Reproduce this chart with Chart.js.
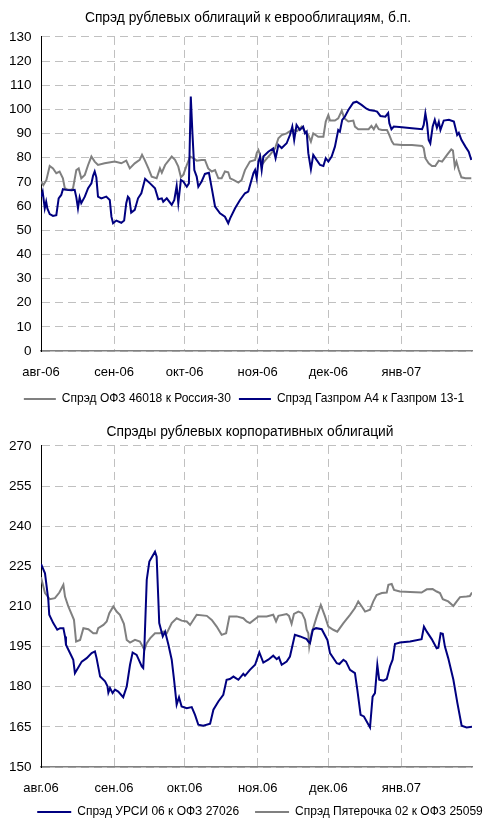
<!DOCTYPE html>
<html><head><meta charset="utf-8">
<script src="https://cdn.jsdelivr.net/npm/chart.js@4/dist/chart.umd.min.js"></script>
<style>
html,body{margin:0;padding:0;background:#fff;overflow:hidden;width:490px;height:818px}
.box{position:absolute;left:0;width:490px}
</style></head>
<body>
<div class="box" style="top:0"><canvas id="c1" width="490" height="415"></canvas></div>
<div class="box" style="top:410px"><canvas id="c2" width="490" height="423"></canvas></div>
<script>
// x values: trading day offset in days from 1 Aug 2006
const monthTicks = [0, 31, 61, 92, 122, 153];
const monthLabels1 = ['авг-06','сен-06','окт-06','ноя-06','дек-06','янв-07'];
const monthLabels2 = ['авг.06','сен.06','окт.06','ноя.06','дек.06','янв.07'];
const yTicks1 = {min:0, max:130, step:10};
const yTicks2 = {min:150, max:270, step:15};

// Спрэд ОФЗ 46018 к Россия-30 [day, b.p.]
const ofzRussia = [[0,70.1],[1,68.7],[2.3,70.8],[3.7,76.6],[5.1,75.6],[6.5,73.6],[7.9,74.3],[9.3,71.5],[10.1,67.4],[11.5,66.7],[12.9,66.7],[13.6,67.4],[15,74.9],[16,75.6],[17.1,71.5],[18.6,72.9],[20,77],[21.4,80.5],[22.8,78.4],[24.2,77],[27,77.7],[31.3,78.4],[34.1,77.7],[36.2,78.8],[37.7,75.6],[39.8,77.7],[41.9,79.1],[42.9,81.2],[44,79.1],[45.6,75.6],[47,72.2],[49.1,71.5],[50.5,75.6],[51.3,73.8],[52.7,77],[55.5,80.5],[56.9,79.1],[58.3,76.3],[59.4,71.9],[60.4,72.9],[61.9,77],[63.3,80.5],[64.7,79.8],[66.1,78.8],[68.2,79.1],[69.6,79.1],[71,75.6],[72.5,74.3],[73.9,74.9],[75.3,71.5],[76.7,71.5],[78.1,74.3],[79.5,74],[80.3,71.5],[81.7,70.8],[83.8,69.7],[85.2,70.8],[86.6,74.9],[88.7,78.4],[90.9,79.1],[91.6,81.9],[92.3,83.2],[93,81.2],[93.7,77],[95.1,78.8],[97.2,81.2],[99.4,83.9],[100.8,88.1],[102.2,89.4],[104.3,90.1],[105.7,91],[107.1,91.5],[108.7,91],[110.7,92.9],[112.1,90.8],[113.5,89.4],[114.6,86.7],[115.6,90.1],[117.7,88.7],[119.9,88.7],[120.9,95],[122,97.7],[122.7,95.4],[124.8,95.4],[126.2,96.3],[127.7,99.5],[128.8,96.3],[130.5,95],[132.6,95.4],[133.3,92.9],[134.7,91.8],[136.3,91.8],[139.1,91.8],[140.3,93.2],[141.3,91.8],[142.3,93.6],[143.4,91.8],[144.8,91.5],[146.9,91.5],[147.6,90.1],[149,86.7],[149.8,85.6],[153.3,85.3],[157.5,85.3],[161.8,84.9],[162.5,84],[163.2,79.8],[164.6,77.7],[166,76.6],[167.4,76.6],[168.9,78.8],[170.3,78.4],[172.4,81.2],[174.2,83.5],[174.9,83],[175.7,76.3],[176.4,78.4],[177.4,74.9],[178.5,71.9],[180.2,71.5],[182.7,71.5]];

// Спрэд Газпром А4 к Газпром 13-1 [day, b.p.]
const gazprom = [[0,63.9],[0.7,66],[1.6,59.1],[2.2,61.8],[2.7,59],[3.7,56.7],[5.1,55.9],[6.5,56.2],[7.5,63.2],[8.6,64.6],[9.3,67],[10.7,66.7],[13,66.5],[14.3,66.7],[15,63.6],[15.7,59.1],[16.4,63.6],[17.1,61.2],[18.6,63.9],[20,67.4],[21.4,69.4],[22.1,72.5],[22.8,74.3],[23.5,71.9],[24.2,63.9],[25.6,63.2],[27.7,63.9],[29.2,62.5],[29.9,55.6],[30.6,52.9],[32,54],[34.1,53.1],[35.3,54],[36.2,61.2],[36.9,63.9],[37.5,63.2],[38.3,57.3],[39.8,58.4],[41.2,63.2],[42.6,65.3],[44.2,71.3],[46.3,69.4],[48.4,67.4],[49.8,62.8],[51.3,63.2],[51.9,61.8],[53.4,63.2],[55.5,60.5],[56.6,62.5],[57.6,68.3],[58.3,61.2],[59.4,70.8],[60.4,70.2],[61.9,68],[62.8,69.4],[63.6,105.3],[64.3,90.1],[65.1,74.9],[66.1,72.2],[66.8,68],[68.2,70.2],[69.6,73.3],[71.3,73.8],[72.5,67.4],[73.9,59.8],[76,57],[78.1,55.6],[79.5,52.9],[80.3,54.9],[82.4,59.1],[84.5,62.5],[86.6,65.3],[88,66],[90.2,73.6],[90.9,74.9],[91.6,71.5],[92.3,78.4],[93,80.5],[93.7,74.9],[94.4,80.5],[96.5,82.5],[98.6,83.9],[99.6,79.8],[100.8,85.3],[102.2,84],[104.3,86],[105.7,89.4],[106.7,92.9],[107.5,87.4],[108.5,93.6],[109.9,91.5],[111.3,92.9],[112.1,90.1],[112.8,90.8],[113.5,81.9],[114.6,75.2],[115.6,81.2],[117,79.1],[118.5,77],[119.9,76.6],[120.9,79.8],[122,78.4],[123.4,80.5],[124.8,84.6],[126.2,91.5],[126.9,90.8],[127.9,95.7],[129,97],[130.5,99.8],[132.6,102.8],[134,103.2],[136.1,101.9],[138.2,100.3],[139.4,99.8],[141.3,99.5],[142.7,99.1],[144.1,97.3],[146.2,97],[147.4,98.5],[147.9,94.3],[148.8,91.8],[149.8,92.9],[153.3,92.6],[157.5,92.2],[161.8,91.8],[162.5,93.6],[163.2,98.4],[163.9,94.3],[164.6,87.4],[165.3,86],[166.3,92.9],[167.2,95.7],[168.1,92.4],[168.9,94.8],[169.6,91.5],[171,95.4],[173.2,95.7],[175.3,95],[176.7,89.4],[177.4,90.3],[178.5,87.4],[180.2,84.6],[181.6,82.5],[182.7,79.1]];

// Спрэд УРСИ 06 к ОФЗ 27026 [day, b.p.]
const ursi = [[0,225.9],[1.7,222.4],[3.1,212.5],[3.5,206.9],[5.2,203.8],[6.9,201.3],[8.1,201.9],[9.5,201.9],[10.2,198.8],[10.6,195.7],[12.3,192.6],[13.7,190.1],[14.4,185.1],[15.2,186.3],[17.3,189.4],[19.4,190.7],[21.5,192.6],[22.9,193.2],[23.6,190.7],[25.1,183.8],[27.2,182],[28.2,180.3],[28.6,177.8],[29.3,179.5],[30.4,177.6],[31.4,178.9],[32.8,178.2],[34.9,176.1],[36.4,180.1],[37.8,188.2],[38.9,192.8],[40.6,191.9],[42.8,187.6],[43.4,187],[43.9,195],[44.9,220],[46,226.8],[48.4,230.5],[49.1,228.6],[49.8,213],[50.2,203.8],[51.7,198.8],[52.7,200.6],[54.1,195.7],[55.5,190.1],[56.5,182.6],[57.6,173.3],[58.6,176.1],[59.7,172.6],[61.9,172],[64,172.4],[65.4,169.5],[66.8,165.8],[68.9,165.4],[71.8,166.2],[73.2,171.4],[75.3,174.5],[77.4,177],[78.8,182.6],[80.2,182.9],[81.7,183.8],[83.8,182.6],[85.9,184.8],[86.6,184.1],[88.7,186.3],[90.9,188.2],[92.7,192.8],[94.4,189],[96.5,190.1],[98.6,191.6],[100.1,190.3],[101,191],[102.2,188.2],[104.3,189.4],[105.7,191.3],[107.8,199.4],[110,198.8],[112.8,197.8],[113.5,196.9],[114.2,196.3],[115.4,201.3],[116.8,201.9],[119.2,201.5],[121.6,197.5],[122.7,192.6],[125.6,188.8],[126.7,188.5],[128.4,190.1],[129.5,189.4],[131.2,186.3],[133.3,185.1],[134.3,178.9],[135.7,169.5],[137.1,168.9],[139.7,164.8],[140.8,176.3],[141.8,177.6],[142.8,188.2],[143.6,182.6],[145.3,182.3],[146.8,182.9],[148.2,187.6],[149.3,190.1],[150.3,196],[152.4,196.5],[156.7,196.9],[161.6,197.8],[162.6,202.5],[163.8,200.6],[165.9,197.8],[168,194.4],[168.7,194.6],[169.7,200],[170.6,199.8],[171.5,195],[172.9,190.7],[175.1,182.6],[176.8,173.9],[178.6,165.4],[180.7,164.8],[183,165]];

// Спрэд Пятерочка 02 к ОФЗ 25059 [day, b.p.]
const pyaterochka = [[0,220.9],[1.7,215],[3.8,212.7],[5.9,213.1],[7.8,215.2],[9.5,218.1],[10.2,213.7],[11.6,210],[14,205],[14.9,196.9],[16.6,197.5],[18,201.9],[20.1,201.5],[22.2,200],[23.6,200],[24.3,201.9],[26.5,203.1],[27.9,204.4],[29,207.5],[30.7,210],[32.1,208.1],[33.5,206.9],[35.2,203.5],[36.4,197.5],[37.8,196.5],[39.9,197.5],[42,196.9],[43.9,193.8],[44.9,196.3],[46.3,198.1],[48.4,200],[50.5,200],[51.9,200.6],[53.4,200],[55.5,203.8],[57.6,205.6],[59.7,204.7],[61.9,204.4],[63.3,203.1],[66.1,206.9],[70.4,206.5],[72.5,205],[74.6,202.5],[76.7,199.4],[78.6,200],[80,206.3],[83.1,206.3],[85.9,205.6],[87.3,204.4],[88.7,203.8],[92.3,206.3],[95.8,206.3],[98.6,206.9],[99.8,204.4],[100.8,206.5],[104.3,207.2],[105.3,206.5],[106.4,203.5],[107.4,207.2],[109.3,208.1],[110.8,207.5],[112.1,205],[112.8,201.3],[113.5,200],[113.9,195],[114.9,200],[117.1,206.3],[118.8,210.6],[120.6,206.3],[122,202.5],[124.1,201.3],[125.8,200.6],[128.4,203.8],[131.2,206.9],[133.3,209.4],[134.7,211.9],[136.2,210],[137.6,208.1],[139.7,208.8],[141.1,211.9],[142.5,214.3],[144.7,215],[146.8,215.2],[147.5,218.1],[148.9,218.4],[149.9,216.2],[152.4,215.6],[156.7,215.4],[161.6,215.2],[163.8,216.4],[166.3,216.5],[168,215.6],[169.4,215],[170.6,212.7],[172.9,211.9],[175.1,210.2],[176.2,211.5],[177.9,213.5],[180.7,213.7],[182.1,213.9],[183,215.2]];

const FONT = '"Liberation Sans", Arial, sans-serif';
const GRID = '#c0c0c0';
const toXY = arr => arr.map(p => ({x: p[0], y: p[1]}));

// shifts the title / legend boxes after layout (positions only)
const boxShift = {
  id: 'boxShift',
  afterLayout(chart, args, opts) {
    const lg = chart.legend, tt = chart.titleBlock;
    if (lg) {
      const dx = opts.legendDx || 0, dy = opts.legendDy || 0;
      lg.left += dx; lg.right += dx; lg.top += dy; lg.bottom += dy;
    }
    if (tt && opts.titleDx) { tt.left += opts.titleDx; tt.right += opts.titleDx; }
  }
};
Chart.register(boxShift);

function makeChart(id, cfg) {
  return new Chart(document.getElementById(id), {
    type: 'line',
    data: { datasets: cfg.datasets },
    options: {
      responsive: false,
      animation: false,
      events: [],
      layout: { padding: 0 },
      elements: { point: { radius: 0 }, line: { tension: 0 } },
      scales: {
        x: {
          type: 'linear', min: 0, max: 183,
          afterBuildTicks: s => { s.ticks = monthTicks.map(v => ({ value: v })); },
          afterFit: s => { s.height = cfg.xH; },
          grid: { color: GRID, lineWidth: 1, drawTicks: false },
          border: { color: '#808080', width: 1.5, dash: [8, 5] },
          ticks: {
            autoSkip: false, maxRotation: 0, padding: 13.5,
            color: '#000', font: { family: FONT, size: 13 },
            callback: (v, i) => cfg.xLabels[i]
          }
        },
        y: {
          min: cfg.y.min, max: cfg.y.max,
          afterFit: s => { s.width = 41; },
          grid: { color: GRID, lineWidth: 1, drawTicks: false },
          border: { color: '#000', width: 1, dash: [8, 5] },
          ticks: { stepSize: cfg.y.step, padding: 9.5, color: '#000', font: { family: FONT, size: 13.5 } }
        },
        yR: {
          position: 'right', display: true,
          grid: { display: false }, border: { display: false }, ticks: { display: false },
          afterFit: s => { s.width = 18; }
        }
      },
      plugins: {
        title: {
          display: true, text: cfg.title, color: '#000',
          font: { family: FONT, size: 13.8, weight: 'normal' },
          padding: cfg.titlePad
        },
        legend: {
          position: 'bottom',
          labels: {
            usePointStyle: true, pointStyle: 'line', pointStyleWidth: cfg.legW,
            padding: cfg.legPad, color: '#000',
            font: { family: FONT, size: 12 },
            sort: (a, b) => a.datasetIndex - b.datasetIndex
          }
        },
        boxShift: { legendDx: cfg.legDx, legendDy: cfg.legDy, titleDx: cfg.titleDx },
        tooltip: { enabled: false }
      }
    }
  });
}

makeChart('c1', {
  title: 'Спрэд рублевых облигаций к еврооблигациям, б.п.',
  titlePad: { top: 9.9, bottom: 10.5 },
  xH: 34, xLabels: monthLabels1, y: yTicks1, legW: 32, legPad: 8, legDx: -1, legDy: 0, titleDx: 3,
  datasets: [
    { label: 'Спрэд ОФЗ 46018 к Россия-30', data: toXY(ofzRussia), borderColor: '#808080', backgroundColor: '#808080', borderWidth: 2, order: 1 },
    { label: 'Спрэд Газпром А4 к Газпром 13-1', data: toXY(gazprom), borderColor: '#000080', backgroundColor: '#000080', borderWidth: 2, order: 0 }
  ]
});

makeChart('c2', {
  title: 'Спрэды рублевых корпоративных облигаций',
  titlePad: { top: 13.6, bottom: 5.8 },
  xH: 28, xLabels: monthLabels2, y: yTicks2, legW: 34, legPad: 16, legDx: 15, legDy: -5, titleDx: 5,
  datasets: [
    { label: 'Спрэд УРСИ 06 к ОФЗ 27026', data: toXY(ursi), borderColor: '#000080', backgroundColor: '#000080', borderWidth: 2 },
    { label: 'Спрэд Пятерочка 02 к ОФЗ 25059', data: toXY(pyaterochka), borderColor: '#808080', backgroundColor: '#808080', borderWidth: 2 }
  ]
});
</script>
</body></html>
